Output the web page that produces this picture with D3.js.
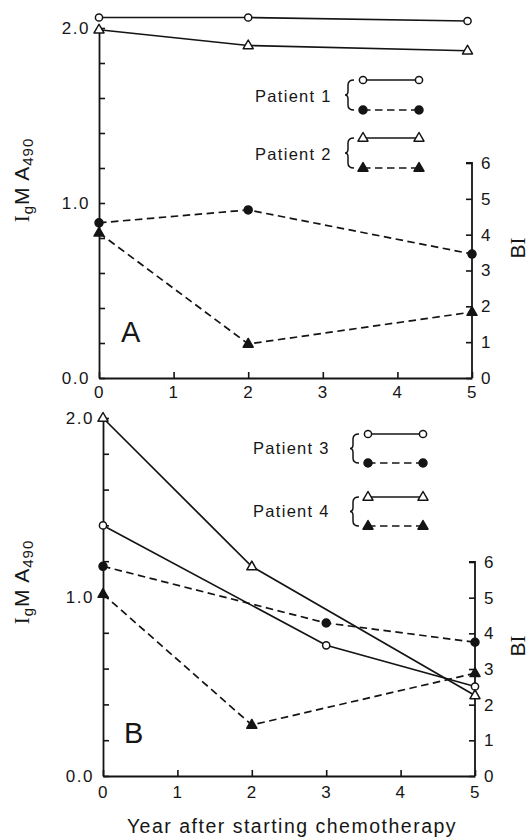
<!DOCTYPE html>
<html>
<head>
<meta charset="utf-8">
<script src="https://cdn.jsdelivr.net/npm/d3@7"></script>
<style>
body { margin: 0; background: #fff; }
text { font-family: "Liberation Sans", Arial, sans-serif; fill: #161616; }
</style>
</head>
<body>
<div id="canvas"></div>
<script>
// values
const yearTicks = [0, 1, 2, 3, 4, 5];
const igmTicks = [0, 0.2, 0.4, 0.6, 0.8, 1.0, 1.2, 1.4, 1.6, 1.8, 2.0];
const igmLabels = ["0.0", "1.0", "2.0"];
const biTicks = [0, 1, 2, 3, 4, 5, 6];

// panel A
const p1IgmYears = [0, 2, 4.94];
const p1Igm = [2.06, 2.06, 2.04];
const p2IgmYears = [0, 2, 4.94];
const p2Igm = [1.99, 1.90, 1.87];
const p1BiYears = [0, 2, 5];
const p1Bi = [4.33, 4.69, 3.46];
const p2BiYears = [0, 2, 5];
const p2Bi = [4.05, 0.95, 1.84];

// panel B
const p3IgmYears = [0, 3, 5];
const p3Igm = [1.40, 0.73, 0.50];
const p4IgmYears = [0, 2, 5];
const p4Igm = [2.00, 1.17, 0.45];
const p3BiYears = [0, 3, 5];
const p3Bi = [5.88, 4.29, 3.75];
const p4BiYears = [0, 2, 5];
const p4Bi = [5.10, 1.43, 2.88];

const patients = ["Patient 1", "Patient 2", "Patient 3", "Patient 4"];

const width = 531;
const height = 838;
const ink = "#141414";

const svg = d3.select("#canvas").append("svg")
    .attr("width", width)
    .attr("height", height);

const panels = [
    {
        letter: "A", left: 99, right: 472, bottom: 378, top: 28, biTop: 163,
        letterPos: [121, 342], yLabelY: 180, biLabelY: 248,
        series: [
            { years: p1IgmYears, values: p1Igm, scale: "igm", marker: "openCircle" },
            { years: p2IgmYears, values: p2Igm, scale: "igm", marker: "openTri" },
            { years: p1BiYears, values: p1Bi, scale: "bi", marker: "dot" },
            { years: p2BiYears, values: p2Bi, scale: "bi", marker: "tri" }
        ],
        legend: {
            names: [patients[0], patients[1]], textX: 255, textY: [102, 160],
            x0: 363, x1: 419, rows: [80, 110, 138, 168], braceX: 348
        }
    },
    {
        letter: "B", left: 103, right: 475, bottom: 776, top: 418, biTop: 562,
        letterPos: [124, 743], yLabelY: 582, biLabelY: 646,
        series: [
            { years: p3IgmYears, values: p3Igm, scale: "igm", marker: "openCircle" },
            { years: p4IgmYears, values: p4Igm, scale: "igm", marker: "openTri" },
            { years: p3BiYears, values: p3Bi, scale: "bi", marker: "dot" },
            { years: p4BiYears, values: p4Bi, scale: "bi", marker: "tri" }
        ],
        legend: {
            names: [patients[2], patients[3]], textX: 253, textY: [454, 517],
            x0: 368, x1: 423, rows: [434, 463, 497, 526], braceX: 353
        }
    }
];

function drawMarker(g, type, cx, cy) {
    if (type === "openCircle" || type === "dot") {
        g.append("circle")
            .attr("cx", cx).attr("cy", cy)
            .attr("r", type === "dot" ? 4 : 3.6)
            .attr("fill", type === "dot" ? ink : "#fff")
            .attr("stroke", ink)
            .attr("stroke-width", 1.5);
    } else {
        g.append("path")
            .attr("transform", `translate(${cx},${cy})`)
            .attr("d", "M0,-5.5L5,3.2L-5,3.2Z")
            .attr("fill", type === "tri" ? ink : "#fff")
            .attr("stroke", ink)
            .attr("stroke-width", 1.5)
            .attr("stroke-linejoin", "round");
    }
}

function brace(x, y0, y1) {
    const mid = (y0 + y1) / 2;
    return `M${x + 6},${y0} Q${x},${y0} ${x},${y0 + 5} L${x},${mid - 4} Q${x},${mid} ${x - 3},${mid}` +
        ` Q${x},${mid} ${x},${mid + 4} L${x},${y1 - 5} Q${x},${y1} ${x + 6},${y1}`;
}

panels.forEach(p => {
    const g = svg.append("g");

    const x = d3.scaleLinear().domain([0, 5]).range([p.left, p.right]);
    const yIgm = d3.scaleLinear().domain([0, 2]).range([p.bottom, p.top]);
    const yBi = d3.scaleLinear().domain([0, 6]).range([p.bottom, p.biTop]);
    const scales = { igm: yIgm, bi: yBi };

    // axes
    const xAxis = g.append("g")
        .attr("transform", `translate(0,${p.bottom})`)
        .call(d3.axisBottom(x).tickValues(yearTicks).tickFormat(d3.format("d"))
            .tickSizeInner(-6).tickSizeOuter(0).tickPadding(8));

    const leftAxis = g.append("g")
        .attr("transform", `translate(${p.left},0)`)
        .call(d3.axisLeft(yIgm).tickValues(igmTicks).tickSizeInner(-6).tickSizeOuter(0).tickPadding(9)
            .tickFormat(d => igmLabels.find(l => +l === Math.round(d * 10) / 10) || ""));

    const rightAxis = g.append("g")
        .attr("transform", `translate(${p.right},0)`)
        .call(d3.axisRight(yBi).tickValues(biTicks).tickFormat(d3.format("d"))
            .tickSizeInner(-6).tickSizeOuter(0).tickPadding(9));

    [xAxis, leftAxis, rightAxis].forEach(a => {
        a.select(".domain").attr("stroke", ink).attr("stroke-width", 1.8);
        a.selectAll(".tick line").attr("stroke", ink).attr("stroke-width", 1.6);
        a.selectAll(".tick text")
            .attr("fill", ink)
            .style("font-family", "'Liberation Sans', Arial, sans-serif")
            .style("font-size", "17px")
            .style("letter-spacing", "1.5px");
    });
    xAxis.selectAll(".tick text").attr("dy", p.letter === "A" ? "0.68em" : "0.85em");
    // the top tick of the right axis reads as a small bracket
    rightAxis.select(".domain").attr("d", `M-6,${p.biTop}H0V${p.bottom}`);

    // lines
    const line = d3.line().x(d => x(d[0])).y(d => d[1]);
    p.series.forEach(s => {
        const pts = s.years.map((yr, i) => [yr, scales[s.scale](s.values[i])]);
        g.append("path")
            .attr("d", line(pts))
            .attr("fill", "none")
            .attr("stroke", ink)
            .attr("stroke-width", 1.7)
            .attr("stroke-dasharray", s.scale === "bi" ? "7.5,4.5" : null);
    });
    p.series.forEach(s => {
        s.years.forEach((yr, i) => drawMarker(g, s.marker, x(yr), scales[s.scale](s.values[i])));
    });

    // panel letter
    g.append("text")
        .attr("x", p.letterPos[0]).attr("y", p.letterPos[1])
        .style("font-size", "29px")
        .text(p.letter);

    // y labels
    const yl = g.append("text")
        .attr("transform", `translate(29,${p.yLabelY}) rotate(-90)`)
        .attr("text-anchor", "middle")
        .style("font-size", "21px")
        .style("letter-spacing", "1px");
    yl.append("tspan").style("font-family", "'Liberation Serif', serif").text("I");
    yl.append("tspan").attr("dy", 4).style("font-size", "15px").text("g");
    yl.append("tspan").attr("dy", -4).text("M A");
    yl.append("tspan").attr("dy", 4).style("font-size", "15px").text("490");

    const bl = g.append("text")
        .attr("transform", `translate(525,${p.biLabelY}) rotate(-90)`)
        .attr("text-anchor", "middle")
        .style("font-size", "21px");
    bl.append("tspan").text("B");
    bl.append("tspan").style("font-family", "'Liberation Serif', serif").text("I");

    // legend
    const L = p.legend;
    const lg = g.append("g");
    L.names.forEach((name, k) => {
        lg.append("text")
            .attr("x", L.textX).attr("y", L.textY[k])
            .style("font-size", "16.5px")
            .style("letter-spacing", "1.3px")
            .text(name);
        const yTop = L.rows[k * 2], yBot = L.rows[k * 2 + 1];
        lg.append("path")
            .attr("d", brace(L.braceX, yTop, yBot))
            .attr("fill", "none").attr("stroke", ink).attr("stroke-width", 1.5);
        lg.append("line")
            .attr("x1", L.x0).attr("x2", L.x1).attr("y1", yTop).attr("y2", yTop)
            .attr("stroke", ink).attr("stroke-width", 1.6);
        lg.append("line")
            .attr("x1", L.x0).attr("x2", L.x1).attr("y1", yBot).attr("y2", yBot)
            .attr("stroke", ink).attr("stroke-width", 1.6).attr("stroke-dasharray", "7.5,4.5");
        const open = k === 0 ? "openCircle" : "openTri";
        const full = k === 0 ? "dot" : "tri";
        [L.x0, L.x1].forEach(cx => {
            drawMarker(lg, open, cx, yTop);
            drawMarker(lg, full, cx, yBot);
        });
    });
});

svg.append("text")
    .attr("x", 292).attr("y", 833)
    .attr("text-anchor", "middle")
    .style("font-size", "19.5px")
    .style("letter-spacing", "1.5px")
    .text("Year after starting chemotherapy");
</script>
</body>
</html>
